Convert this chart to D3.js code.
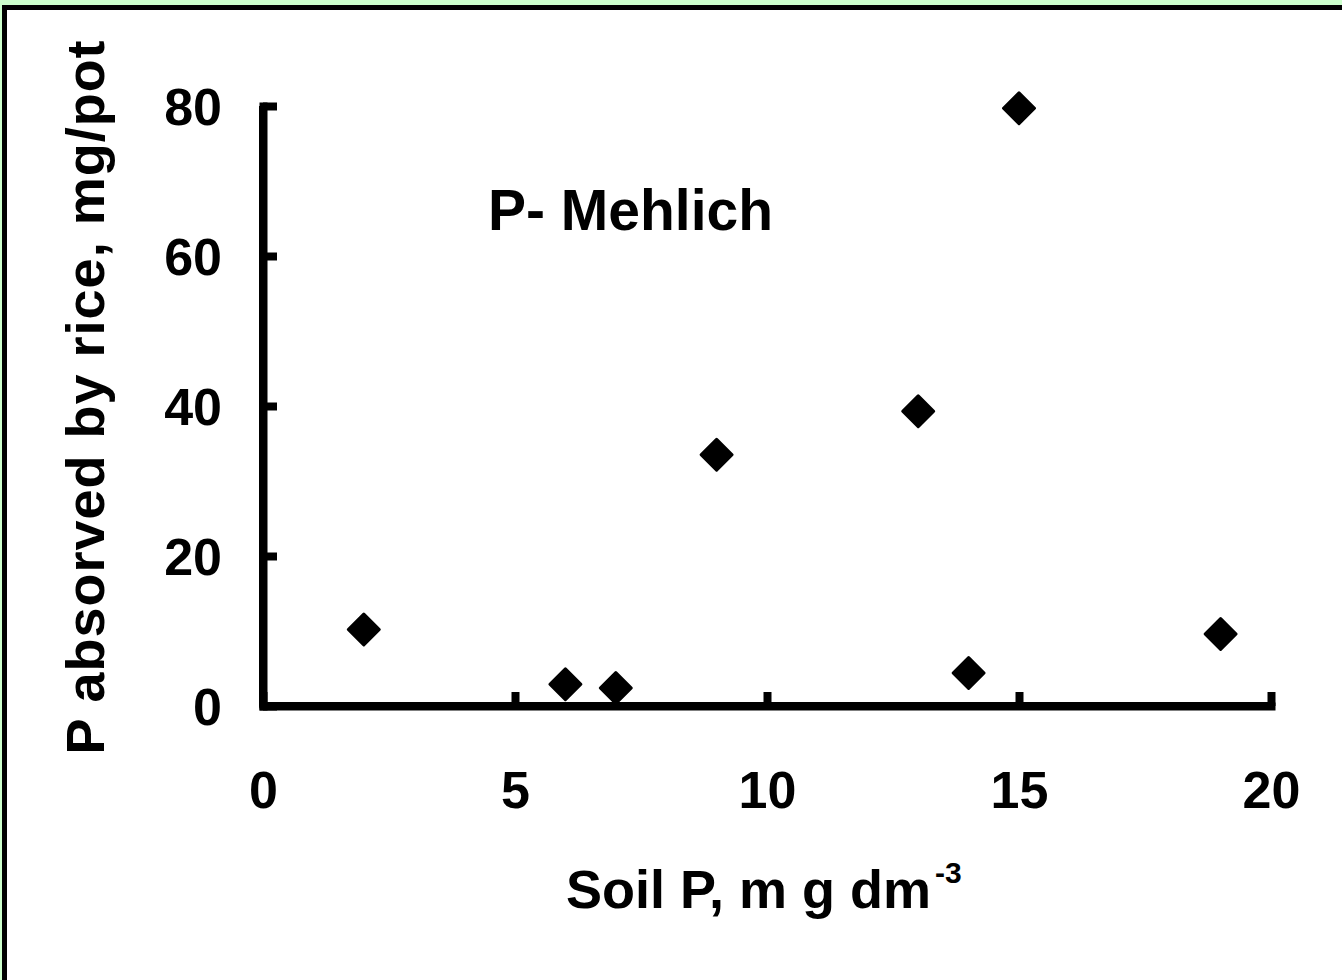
<!DOCTYPE html>
<html>
<head>
<meta charset="utf-8">
<script src="https://cdn.jsdelivr.net/npm/d3@7"></script>
<style>
  html, body { margin: 0; padding: 0; background: #ccffcc; }
  svg { display: block; }
  text { font-family: "Liberation Sans", Arial, sans-serif; font-weight: bold; fill: #000; }
</style>
</head>
<body>
<script>
// data
const soilP = [2, 6, 7, 9, 13, 14, 15, 19];
const absorbedP = [10.2, 2.9, 2.4, 33.5, 39.3, 4.4, 79.7, 9.6];
const xTicks = [0, 5, 10, 15, 20];
const yTicks = [0, 20, 40, 60, 80];

const Width = 1342, Height = 980;
const svg = d3.select(document.body).append("svg")
    .attr("width", Width).attr("height", Height);

// frame: light green strip top/left, black border, white inside
svg.append("rect").attr("x", 0).attr("y", 0).attr("width", Width).attr("height", Height).attr("fill", "#ccffcc");
svg.append("rect").attr("x", 2).attr("y", 5).attr("width", Width).attr("height", Height).attr("fill", "#000");
svg.append("rect").attr("x", 7).attr("y", 10).attr("width", Width).attr("height", Height).attr("fill", "#fff");

// scales
const xScale = d3.scaleLinear().domain([0, 20]).range([263, 1271]);
const yScale = d3.scaleLinear().domain([0, 80]).range([706, 106]);

// axes, ticks point inward
const xAxis = d3.axisBottom(xScale).tickValues(xTicks).tickSizeInner(-14).tickSizeOuter(0).tickPadding(65);
const yAxis = d3.axisLeft(yScale).tickValues(yTicks).tickSizeInner(-14).tickSizeOuter(0).tickPadding(41);

const GX = svg.append("g").attr("transform", "translate(0," + yScale(0) + ")").call(xAxis);
const GY = svg.append("g").attr("transform", "translate(" + xScale(0) + ",0)").call(yAxis);

[GX, GY].forEach(g => {
    g.select(".domain").attr("stroke", "#000").attr("stroke-width", 8).attr("stroke-linecap", "square");
    g.selectAll(".tick line").attr("stroke", "#000").attr("stroke-width", 8);
    g.selectAll(".tick text").attr("font-size", 52).attr("font-family", null).attr("fill", "#000");
});
GY.selectAll(".tick text").attr("dy", "0.36em");

// corner so the two axis lines join cleanly
svg.append("path")
    .attr("d", "M" + xScale(0) + "," + yScale(80) + "V" + yScale(0) + "H" + xScale(20))
    .attr("fill", "none").attr("stroke", "#000").attr("stroke-width", 8)
    .attr("stroke-linejoin", "round");

// points: diamonds
svg.selectAll(".pt").data(soilP).enter().append("path")
    .attr("class", "pt")
    .attr("d", d3.symbol().type(d3.symbolSquare).size(480))
    .attr("transform", (d, i) => "translate(" + xScale(d) + "," + yScale(absorbedP[i]) + ") rotate(45)")
    .attr("fill", "#000").attr("stroke", "#000").attr("stroke-width", 3).attr("stroke-linejoin", "round");

// annotation
svg.append("text").attr("x", 488).attr("y", 230).attr("font-size", 57).text("P- Mehlich");

// axis titles
const xt = svg.append("text").attr("x", 566).attr("y", 908).attr("font-size", 54);
xt.append("tspan").text("Soil P, m g dm");
xt.append("tspan").attr("font-size", 30).attr("dx", 4).attr("dy", -25).text("-3");

svg.append("text")
    .attr("transform", "translate(104,397) rotate(-90)")
    .attr("text-anchor", "middle").attr("font-size", 54).attr("letter-spacing", 1)
    .text("P absorved by rice, mg/pot");
</script>
</body>
</html>
